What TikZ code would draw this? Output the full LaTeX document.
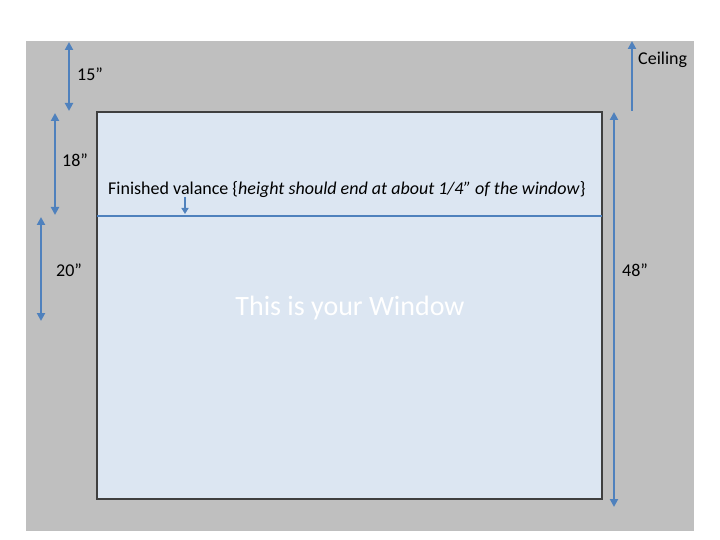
\documentclass[tikz,border=0pt]{standalone}
\usepackage{fontspec}
\setmainfont{Carlito}
\usetikzlibrary{arrows.meta,positioning}
\definecolor{wallGray}{HTML}{BFBFBF}
\definecolor{windowFill}{HTML}{DCE6F2}
\definecolor{windowEdge}{HTML}{3F3F3F}
\definecolor{measureBlue}{HTML}{4F81BD}

\begin{document}
\begin{tikzpicture}[
  x=1pt,y=-1pt,
  font=\fontsize{18}{21}\selectfont,
  panel/.style={anchor=north west,inner sep=0pt,outer sep=0pt},
  dim/.style={{Triangle[length=8pt,width=8pt]}-{Triangle[length=8pt,width=8pt]},line width=2.2pt,measureBlue},
  single/.style={-{Triangle[length=8pt,width=8pt]},line width=2.2pt,measureBlue},
  lbl/.style={anchor=west,inner sep=0pt,text=black}
]
  \useasboundingbox (0,0) rectangle (720,540);
  % wall and window
  \node[panel,fill=wallGray,minimum width=668pt,minimum height=490pt] (wall) at (26,41) {};
  \node[panel,fill=windowFill,draw=windowEdge,line width=1.2pt,minimum width=505pt,minimum height=387pt] (window) at (97,112) {};
  \node[text=white,font=\fontsize{28}{32}\selectfont] (title) at (350,308) {This is your Window};
  % valance
  \coordinate (valL) at (97,216);
  \coordinate (valR) at (602,216);
  \draw[measureBlue,line width=1.8pt] (valL) -- (valR);
  \node[lbl] (valance) at (108,190) {Finished valance \{\textit{height should end at about 1/4” of the window}\}};
  \coordinate (valTop) at (185,197);
  \coordinate (valTip) at (185,214);
  \draw[measureBlue,line width=1.5pt,-{Triangle[length=6pt,width=7pt]}] (valTop) -- (valTip);
  % measurements on the left
  \coordinate (a1) at (69,42);   \coordinate (a2) at (69,111);
  \coordinate (b1) at (55,113);  \coordinate (b2) at (55,215);
  \coordinate (c1) at (41,217);  \coordinate (c2) at (41,321);
  \draw[dim] (a1) -- (a2);
  \draw[dim] (b1) -- (b2);
  \draw[dim] (c1) -- (c2);
  \node[lbl] (top) at (77,74) {15”};
  \node[lbl] (mid) at (62,160) {18”};
  \node[lbl] (low) at (56,270) {20”};
  % measurements on the right
  \coordinate (ceilBase) at (632,111); \coordinate (ceilTop) at (632,41);
  \coordinate (h1) at (614,112);       \coordinate (h2) at (614,507);
  \draw[single] (ceilBase) -- (ceilTop);
  \draw[dim] (h1) -- (h2);
  \node[lbl] (ceiling) at (638,60) {Ceiling};
  \node[lbl] (height) at (622,270) {48”};
\end{tikzpicture}
\end{document}
